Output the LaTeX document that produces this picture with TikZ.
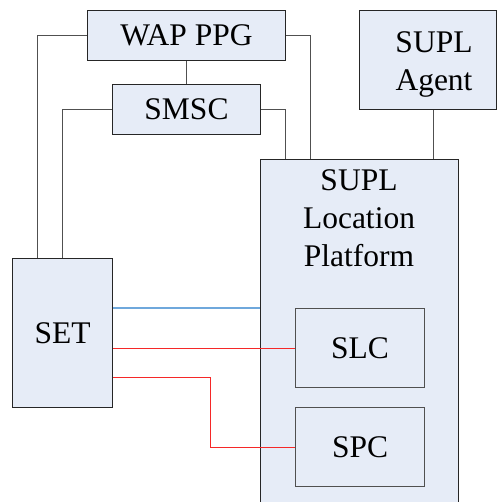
\documentclass[tikz,border=0pt]{standalone}
\usepackage{fontspec}
\setmainfont{Liberation Serif}
\usetikzlibrary{calc}
\definecolor{boxfill}{RGB}{230,236,247}
\definecolor{boxline}{RGB}{38,38,38}
\definecolor{subline}{RGB}{80,80,80}
\definecolor{wire}{RGB}{80,80,80}
\definecolor{bluewire}{RGB}{111,168,220}
\definecolor{redwire}{RGB}{245,40,40}
\begin{document}
\begin{tikzpicture}[x=1pt,y=-1pt,
  every node/.style={font=\fontsize{31.5}{38}\selectfont, inner sep=0pt},
  unit/.style={draw=boxline, line width=1pt, fill=boxfill, anchor=north west},
  subunit/.style={draw=subline, line width=1.2pt, fill=boxfill, anchor=north west},
  wire/.style={draw=wire, line width=1pt},
  bluelink/.style={draw=bluewire, line width=1.5pt},
  redlink/.style={draw=redwire, line width=1pt}]
\useasboundingbox (0,0) rectangle (497,502);
\clip (0,0) rectangle (497,502);

% network elements
\node[unit, minimum width=198pt, minimum height=50pt] (wap) at (87,10) {};
\node at (wap.center) (waptext) {WAP PPG};
\node[unit, minimum width=148pt, minimum height=50pt] (smsc) at (112,84) {};
\node at (smsc.center) (smsctext) {SMSC};
\node[unit, minimum width=137pt, minimum height=99pt] (agent) at (359,10) {};
\node[align=center, anchor=north] (agenttext) at (434,31) {SUPL\\Agent};
\node[unit, minimum width=100pt, minimum height=149pt] (set) at (12,258) {};
\node at (set.center) (settext) {SET};

% location platform with its two servers
\node[unit, minimum width=198pt, minimum height=360pt] (slp) at (260,159) {};
\node[align=center, anchor=north] (slptext) at (359,169) {SUPL\\Location\\Platform};
\node[subunit, minimum width=129pt, minimum height=79pt] (slc) at (295,308) {};
\node at (slc.center) (slctext) {SLC};
\node[subunit, minimum width=129pt, minimum height=79pt] (spc) at (295,407) {};
\node at (spc.center) (spctext) {SPC};

% push and SMS paths
\draw[wire] (wap.south) -- (smsc.north);
\draw[wire] (wap.west) -| ($(set.north west)+(25,0)$);
\draw[wire] (smsc.west) -| ($(set.north west)+(50,0)$);
\draw[wire] (wap.east) -| ($(slp.north west)+(50,0)$);
\draw[wire] (smsc.east) -| ($(slp.north west)+(25,0)$);
\draw[wire] ($(agent.south west)+(74,0)$) -- ($(slp.north west)+(173,0)$);

% user plane links
\coordinate (bluey) at ($(set.north east)+(0,50)$);
\draw[bluelink] (bluey) -- (slp.west |- bluey);
\draw[redlink] (set.east |- slc.west) -- (slc.west);
\coordinate (bend) at (210,377);
\draw[redlink] (set.east |- bend) -- (bend) |- (spc.west);
\end{tikzpicture}
\end{document}
